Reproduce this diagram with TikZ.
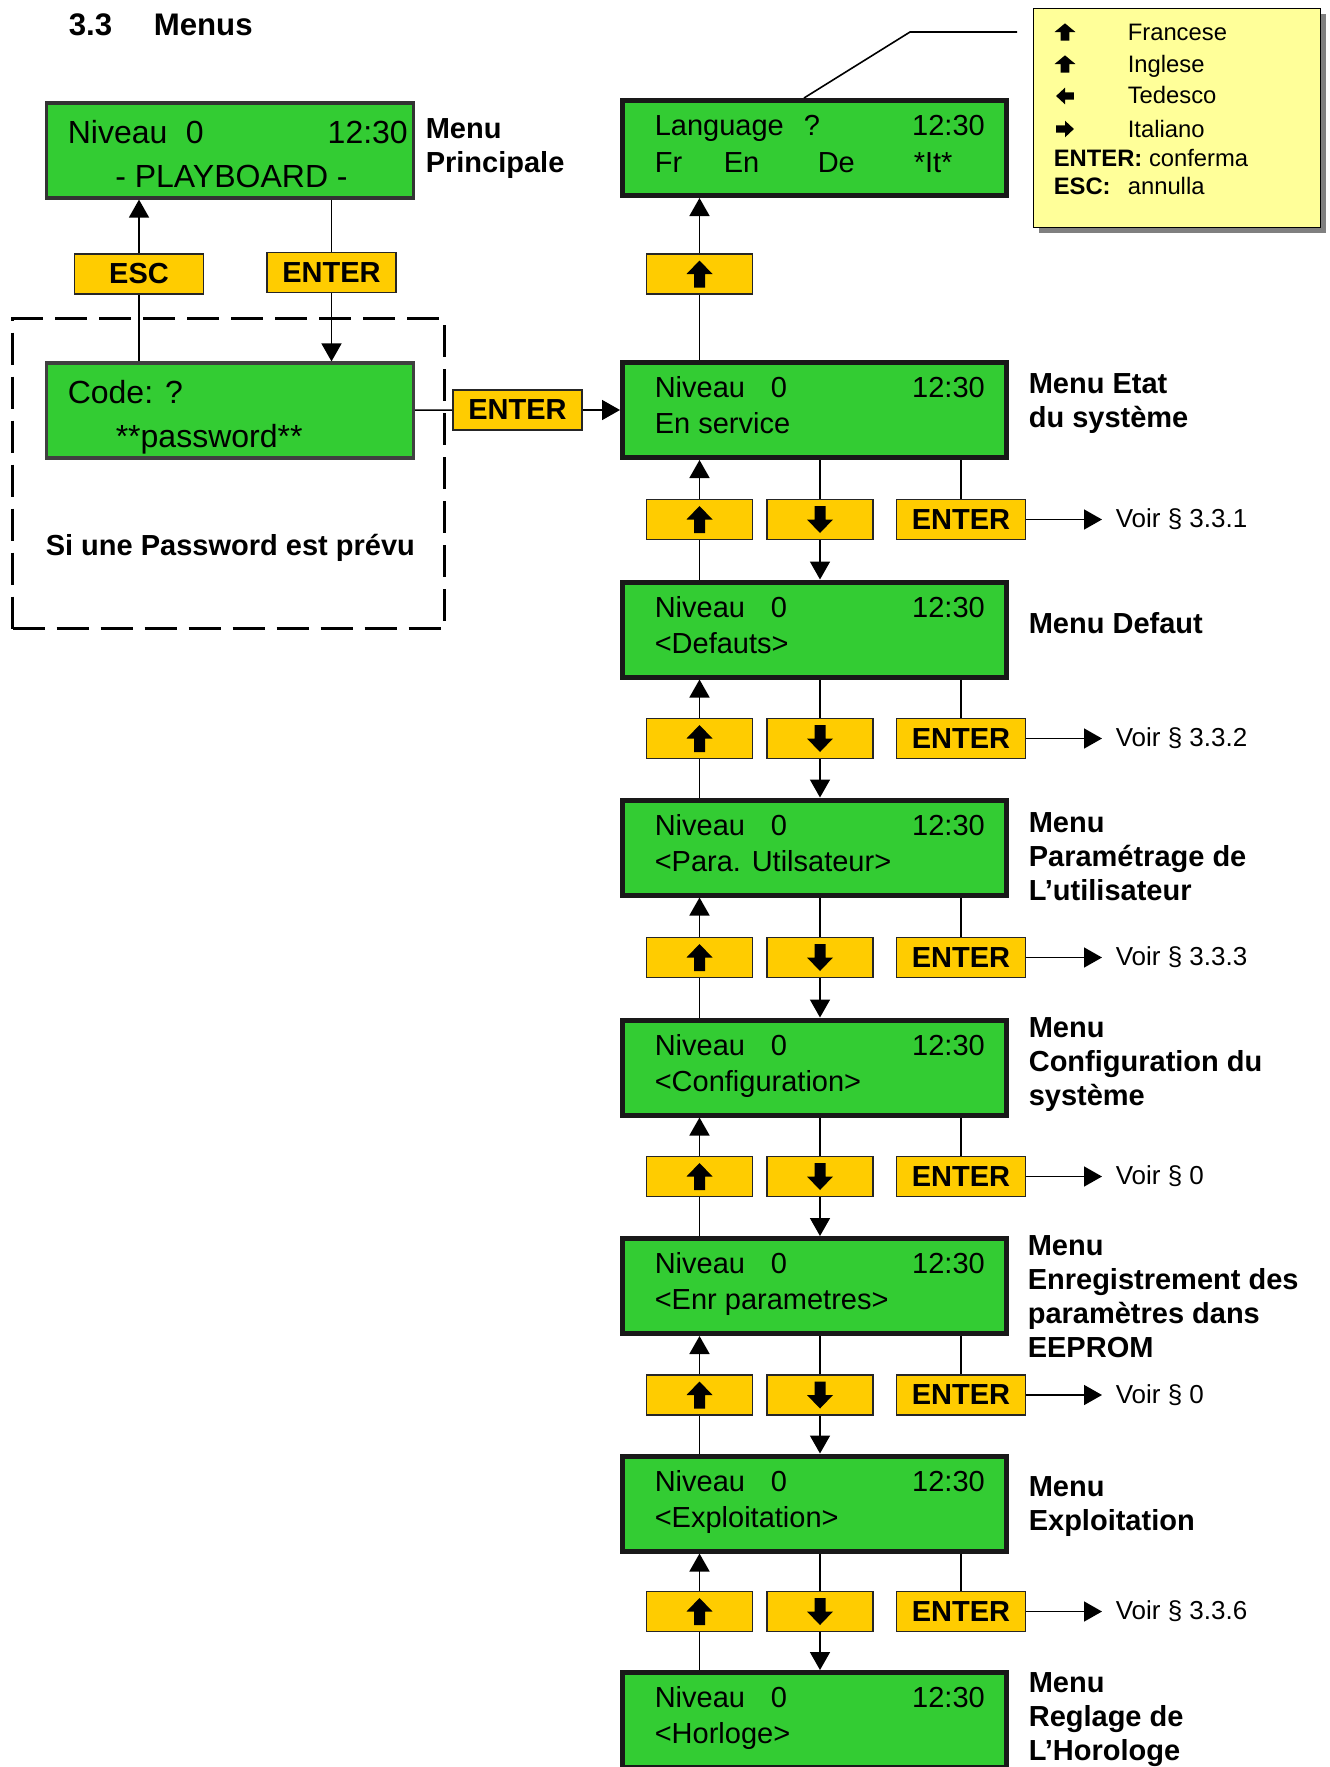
\documentclass[tikz,border=0pt]{standalone}
\usepackage{fontspec}
\setmainfont{Liberation Sans}
\usetikzlibrary{arrows.meta, shadows}

\definecolor{lcdgreen}{RGB}{51,204,51}
\definecolor{keyyellow}{RGB}{255,204,0}
\definecolor{notepale}{RGB}{255,255,153}

\tikzset{
  blockarrow/.pic={
    \fill (-2.75pt,-6.75pt) -- (2.75pt,-6.75pt) -- (2.75pt,0pt) -- (6.5pt,0pt)
      -- (0pt,6.75pt) -- (-6.5pt,0pt) -- (-2.75pt,0pt) -- cycle;
  }
}

\begin{document}
\begin{tikzpicture}[
    x=0.5pt, y=-0.5pt, line width=0.8pt,
    screen/.style={rectangle, draw=black!90, line width=2.5pt, fill=lcdgreen, minimum width=192pt, minimum height=47.5pt, inner sep=0pt},
    oldscreen/.style={screen, draw=black!80, line width=1.6pt, minimum width=183.5pt, minimum height=47.5pt},
    lcd/.style={anchor=base west, inner sep=0pt, font=\fontsize{14.5}{17}\selectfont},
    biglcd/.style={lcd, font=\fontsize{16}{19}\selectfont},
    keybox/.style={rectangle, draw=black!85, line width=0.8pt, fill=keyyellow, minimum height=20pt, inner sep=0pt, font=\fontsize{14.5}{17}\selectfont\bfseries},
    arrowkey/.style={keybox, minimum width=53pt},
    enterkey/.style={keybox, minimum width=64.5pt},
    menutext/.style={anchor=north west, inner sep=0pt, align=left, font=\fontsize{14.5}{17}\selectfont\bfseries},
    voirtext/.style={anchor=west, inner xsep=6.5pt, inner ysep=0pt, font=\fontsize{13}{15}\selectfont},
    notetext/.style={anchor=base west, inner sep=0pt, font=\fontsize{11.9}{14}\selectfont},
    >={Triangle[length=9pt, width=10pt]}
]
\useasboundingbox (0,0) rectangle (1329,1767);

% Title
\node[anchor=base west, inner sep=0pt, font=\fontsize{15.6}{18}\selectfont\bfseries] (title) at (68,35) {\makebox[42.5pt][l]{3.3}Menus};

% Password zone (dashed)
\node[draw, line width=1.6pt, dash pattern=on 16pt off 6pt, minimum width=216pt, minimum height=155pt, inner sep=0pt] (pwbox) at (228.5,473.5) {};
\node[anchor=base west, inner sep=0pt, font=\fontsize{14.5}{17}\selectfont\bfseries] (pwnote) at (45,555) {Si une Password est prévu};

% Screens
\node[oldscreen] (main) at (230,150.5) {};
\node[oldscreen, draw=black!75] (code) at (230,410.5) {};
\node[screen] (lang) at (814.5,148) {};
\node[screen] (etat) at (814.5,410) {};
\node[screen] (defaut) at (814.5,629.5) {};
\node[screen] (para) at (814.5,847.5) {};
\node[screen] (config) at (814.5,1067.5) {};
\node[screen] (enr) at (814.5,1286) {};
\node[screen] (exploit) at (814.5,1503.5) {};
\node[screen] (horloge) at (814.5,1720) {};

% Screen texts
\node[biglcd] (mainA) at (67,143) {\makebox[170pt][l]{\makebox[59pt][l]{Niveau}0\hfill 12:30}};
\node[biglcd, anchor=base] (mainB) at (231.5,187) {- PLAYBOARD -};
\node[biglcd] (codeA) at (67,403) {Code: ?};
\node[biglcd] (codeB) at (115,447) {**password**};
\node[lcd] (langA) at (654,135) {\makebox[165pt][l]{\makebox[74.5pt][l]{Language}?\hfill 12:30}};
\node[lcd] (langB) at (654,172) {\makebox[34.5pt][l]{Fr}\makebox[47pt][l]{En}\makebox[48pt][l]{De}*It*};
\node[lcd] (etatA) at (654,397) {\makebox[165pt][l]{\makebox[58pt][l]{Niveau}0\hfill 12:30}};
\node[lcd] (etatB) at (654,433) {En service};
\node[lcd] (defautA) at (654,617) {\makebox[165pt][l]{\makebox[58pt][l]{Niveau}0\hfill 12:30}};
\node[lcd] (defautB) at (654,653) {<Defauts>};
\node[lcd] (paraA) at (654,835) {\makebox[165pt][l]{\makebox[58pt][l]{Niveau}0\hfill 12:30}};
\node[lcd] (paraB) at (654,871) {<Para. Utilsateur>};
\node[lcd] (configA) at (654,1055) {\makebox[165pt][l]{\makebox[58pt][l]{Niveau}0\hfill 12:30}};
\node[lcd] (configB) at (654,1091) {<Configuration>};
\node[lcd] (enrA) at (654,1273) {\makebox[165pt][l]{\makebox[58pt][l]{Niveau}0\hfill 12:30}};
\node[lcd] (enrB) at (654,1309) {<Enr parametres>};
\node[lcd] (exploitA) at (654,1491) {\makebox[165pt][l]{\makebox[58pt][l]{Niveau}0\hfill 12:30}};
\node[lcd] (exploitB) at (654,1527) {<Exploitation>};
\node[lcd] (horlogeA) at (654,1707) {\makebox[165pt][l]{\makebox[58pt][l]{Niveau}0\hfill 12:30}};
\node[lcd] (horlogeB) at (654,1743) {<Horloge>};

% Menu names
\node[menutext] (mainlab) at (425,118) {Menu\\Principale};
\node[menutext] (etatlab) at (1028,373) {Menu Etat\\du système};
\node[menutext] (defautlab) at (1028,612) {Menu Defaut};
\node[menutext] (paralab) at (1028,812) {Menu\\Paramétrage de\\L’utilisateur};
\node[menutext] (configlab) at (1028,1017) {Menu\\Configuration du\\système};
\node[menutext] (enrlab) at (1027,1235) {Menu\\Enregistrement des\\paramètres dans\\EEPROM};
\node[menutext] (exploitlab) at (1028,1476) {Menu\\Exploitation};
\node[menutext] (horlab) at (1028,1672) {Menu\\Reglage de\\L’Horologe};

% Keys: login part
\node[enterkey] (esc) at (139,274) {ESC};
\node[enterkey] (entA) at (331.5,272.5) {ENTER};
\node[enterkey] (entR) at (517.5,410) {ENTER};

% Keys: language
\node[arrowkey] (up0) at (699.5,274) {};

% Keys: menu rows
\node[arrowkey] (up1) at (699.5,519.5) {};
\node[arrowkey] (dn1) at (820,519.5) {};
\node[enterkey] (en1) at (961,519.5) {ENTER};
\node[arrowkey] (up2) at (699.5,738.5) {};
\node[arrowkey] (dn2) at (820,738.5) {};
\node[enterkey] (en2) at (961,738.5) {ENTER};
\node[arrowkey] (up3) at (699.5,957.5) {};
\node[arrowkey] (dn3) at (820,957.5) {};
\node[enterkey] (en3) at (961,957.5) {ENTER};
\node[arrowkey] (up4) at (699.5,1176.5) {};
\node[arrowkey] (dn4) at (820,1176.5) {};
\node[enterkey] (en4) at (961,1176.5) {ENTER};
\node[arrowkey] (up5) at (699.5,1395) {};
\node[arrowkey] (dn5) at (820,1395) {};
\node[enterkey] (en5) at (961,1395) {ENTER};
\node[arrowkey] (up6) at (699.5,1611.5) {};
\node[arrowkey] (dn6) at (820,1611.5) {};
\node[enterkey] (en6) at (961,1611.5) {ENTER};

% Arrow glyphs on keys
\pic at (up0) {blockarrow};
\pic at (up1) {blockarrow};
\pic[rotate=180] at (dn1) {blockarrow};
\pic at (up2) {blockarrow};
\pic[rotate=180] at (dn2) {blockarrow};
\pic at (up3) {blockarrow};
\pic[rotate=180] at (dn3) {blockarrow};
\pic at (up4) {blockarrow};
\pic[rotate=180] at (dn4) {blockarrow};
\pic at (up5) {blockarrow};
\pic[rotate=180] at (dn5) {blockarrow};
\pic at (up6) {blockarrow};
\pic[rotate=180] at (dn6) {blockarrow};

% Cross references
\node[voirtext] (voir1) at (1102,519.5) {Voir § 3.3.1};
\node[voirtext] (voir2) at (1102,738.5) {Voir § 3.3.2};
\node[voirtext] (voir3) at (1102,957.5) {Voir § 3.3.3};
\node[voirtext] (voir4) at (1102,1176.5) {Voir § 0};
\node[voirtext] (voir5) at (1102,1395) {Voir § 0};
\node[voirtext] (voir6) at (1102,1611.5) {Voir § 3.3.6};

% Legend of the language screen
\node[draw=black, line width=0.5pt, fill=notepale, minimum width=143.5pt, minimum height=109.5pt,
      drop shadow={shadow xshift=3pt, shadow yshift=-3pt, fill=black!50, opacity=1}] (legend) at (1176.5,117.5) {};
\pic[xscale=0.8, yscale=0.64] at (1065,32) {blockarrow};
\pic[xscale=0.8, yscale=0.64] at (1065,64) {blockarrow};
\pic[rotate=90, xscale=0.64, yscale=0.66] at (1065,96) {blockarrow};
\pic[rotate=-90, xscale=0.64, yscale=0.66] at (1065,129) {blockarrow};
\node[notetext] (lg1) at (1127,40) {Francese};
\node[notetext] (lg2) at (1127,72) {Inglese};
\node[notetext] (lg3) at (1127,103) {Tedesco};
\node[notetext] (lg4) at (1127,137) {Italiano};
\node[notetext] (lg5) at (1053,166) {\textbf{ENTER:} conferma};
\node[notetext] (lg6) at (1053,194) {\makebox[37pt][l]{\textbf{ESC:}}annulla};

% Callout to the legend
\coordinate (calla) at (804,0);
\coordinate (callb) at (910,32);
\coordinate (callc) at (1017,32);
\draw (lang.north -| calla) -- (callb) -- (callc);

% Edges: login
\draw[->] (esc) -- (esc |- main.south);
\draw (esc |- code.north) -- (esc);
\draw (entA |- main.south) -- (entA);
\draw[->] (entA) -- (entA |- code.north);
\draw (code) -- (entR);
\draw[->] (entR) -- (etat);

% Edges: language
\draw[->] (up0) -- (up0 |- lang.south);
\draw (up0 |- etat.north) -- (up0);

% Edges: etat / defaut
\draw[->] (up1) -- (up1 |- etat.south);
\draw (up1 |- defaut.north) -- (up1);
\draw (dn1 |- etat.south) -- (dn1);
\draw[->] (dn1) -- (dn1 |- defaut.north);
\draw (en1 |- etat.south) -- (en1);
\draw[->] (en1) -- (voir1);

% Edges: defaut / para
\draw[->] (up2) -- (up2 |- defaut.south);
\draw (up2 |- para.north) -- (up2);
\draw (dn2 |- defaut.south) -- (dn2);
\draw[->] (dn2) -- (dn2 |- para.north);
\draw (en2 |- defaut.south) -- (en2);
\draw[->] (en2) -- (voir2);

% Edges: para / config
\draw[->] (up3) -- (up3 |- para.south);
\draw (up3 |- config.north) -- (up3);
\draw (dn3 |- para.south) -- (dn3);
\draw[->] (dn3) -- (dn3 |- config.north);
\draw (en3 |- para.south) -- (en3);
\draw[->] (en3) -- (voir3);

% Edges: config / enr
\draw[->] (up4) -- (up4 |- config.south);
\draw (up4 |- enr.north) -- (up4);
\draw (dn4 |- config.south) -- (dn4);
\draw[->] (dn4) -- (dn4 |- enr.north);
\draw (en4 |- config.south) -- (en4);
\draw[->] (en4) -- (voir4);

% Edges: enr / exploit
\draw[->] (up5) -- (up5 |- enr.south);
\draw (up5 |- exploit.north) -- (up5);
\draw (dn5 |- enr.south) -- (dn5);
\draw[->] (dn5) -- (dn5 |- exploit.north);
\draw (en5 |- enr.south) -- (en5);
\draw[->] (en5) -- (voir5);

% Edges: exploit / horloge
\draw[->] (up6) -- (up6 |- exploit.south);
\draw (up6 |- horloge.north) -- (up6);
\draw (dn6 |- exploit.south) -- (dn6);
\draw[->] (dn6) -- (dn6 |- horloge.north);
\draw (en6 |- exploit.south) -- (en6);
\draw[->] (en6) -- (voir6);

\end{tikzpicture}
\end{document}
